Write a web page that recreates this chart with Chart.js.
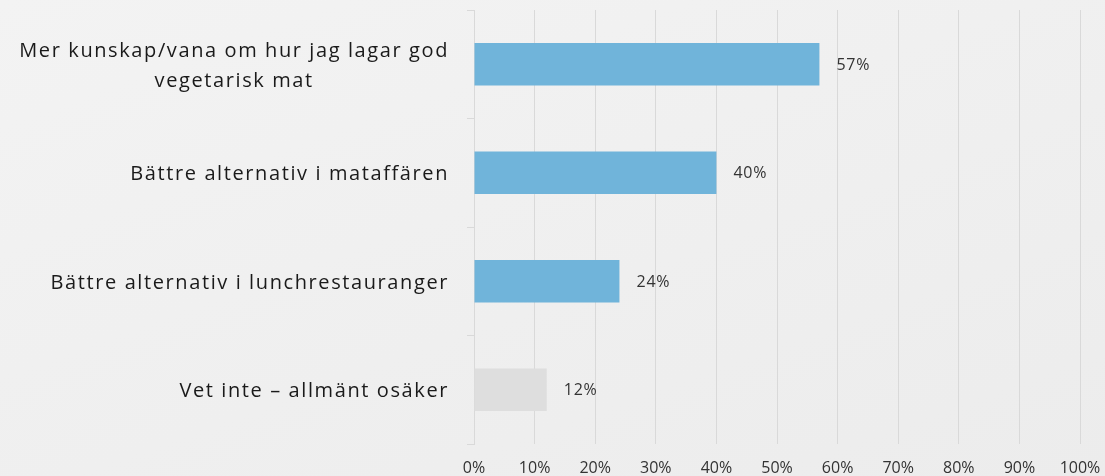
<!DOCTYPE html>
<html>
<head>
<meta charset="utf-8">
<script src="https://cdn.jsdelivr.net/npm/chart.js@4"></script>
<style>
  html, body { margin: 0; padding: 0; }
  body {
    width: 1105px; height: 476px; overflow: hidden;
    background: linear-gradient(160deg, #f3f3f3 0%, #ececec 100%);
  }
  #wrap { width: 1105px; height: 476px; position: relative; }
</style>
</head>
<body>
<div id="wrap"><canvas id="chart"></canvas></div>
<script>
// data
const categories = [
  ['Mer kunskap/vana om hur jag lagar god', 'vegetarisk mat'],
  'Bättre alternativ i mataffären',
  'Bättre alternativ i lunchrestauranger',
  'Vet inte – allmänt osäker'
];
const values = [57, 40, 24, 12];
const barColors = ['#70b4da', '#70b4da', '#70b4da', '#dedede'];
const xTicks = [0, 10, 20, 30, 40, 50, 60, 70, 80, 90, 100];

const FONT = '"Open Sans", "Noto Sans", sans-serif';

// category labels (block right aligned, lines centred) + value labels
const labelPlugin = {
  id: 'labels',
  afterDatasetsDraw(chart) {
    const ctx = chart.ctx;
    const yScale = chart.scales.y;
    const meta = chart.getDatasetMeta(0);
    ctx.save();
    ctx.textBaseline = 'middle';

    if ('letterSpacing' in ctx) ctx.letterSpacing = '1.6px';
    ctx.font = '20px ' + FONT;
    ctx.fillStyle = '#1a1a1a';
    const rightEdge = yScale.right - 25;
    categories.forEach((lab, i) => {
      const lines = Array.isArray(lab) ? lab : [lab];
      const yc = yScale.getPixelForValue(i) + 2;
      const lh = 30;
      const maxW = Math.max(...lines.map(l => ctx.measureText(l).width));
      ctx.textAlign = 'center';
      lines.forEach((l, j) => {
        const y = yc + (j - (lines.length - 1) / 2) * lh;
        ctx.fillText(l, rightEdge - maxW / 2, y);
      });
    });

    if ('letterSpacing' in ctx) ctx.letterSpacing = '0.8px';
    ctx.font = '16px ' + FONT;
    ctx.fillStyle = '#333333';
    ctx.textAlign = 'left';
    meta.data.forEach((bar, i) => {
      ctx.fillText(values[i] + '%', bar.x + 17, bar.y + 1);
    });
    ctx.restore();
  }
};

new Chart(document.getElementById('chart'), {
  type: 'bar',
  data: {
    labels: categories,
    datasets: [{
      data: values,
      backgroundColor: barColors,
      borderWidth: 0,
      barPercentage: 0.39,
      categoryPercentage: 1
    }]
  },
  options: {
    indexAxis: 'y',
    responsive: true,
    maintainAspectRatio: false,
    animation: false,
    layout: { padding: { top: 10, right: 25, bottom: 0, left: 0 } },
    plugins: {
      legend: { display: false },
      tooltip: { enabled: false }
    },
    scales: {
      x: {
        min: 0,
        max: 100,
        afterBuildTicks(scale) {
          scale.ticks = xTicks.map(v => ({ value: v }));
        },
        afterFit(scale) {
          scale.height = 32;
          scale.paddingLeft = 0;
          scale.paddingRight = 0;
        },
        ticks: {
          callback: v => v + '%',
          font: { family: FONT, size: 16 },
          color: '#333333',
          padding: 15,
          maxRotation: 0
        },
        grid: { color: '#d9d9d9', drawTicks: false, lineWidth: 1 },
        border: { display: false }
      },
      y: {
        ticks: { display: false },
        afterFit(scale) { scale.width = 474; },
        grid: {
          offset: true,
          drawOnChartArea: false,
          drawTicks: true,
          tickLength: 7,
          color: '#d9d9d9'
        },
        border: { display: true, color: '#d9d9d9' }
      }
    }
  },
  plugins: [labelPlugin]
});
</script>
</body>
</html>
